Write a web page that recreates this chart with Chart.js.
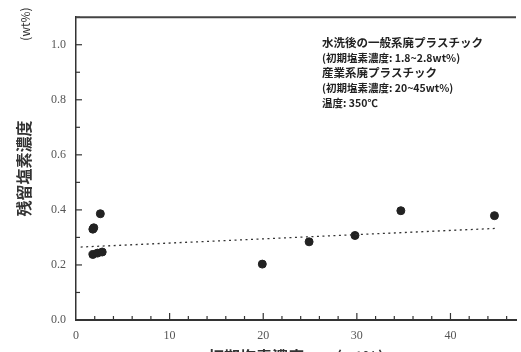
<!DOCTYPE html>
<html>
<head>
<meta charset="utf-8">
<script src="https://cdn.jsdelivr.net/npm/chart.js@4"></script>
<style>
    body { margin: 0; background: #fff; overflow: hidden; }
    #wrap { width: 521px; height: 352px; position: relative; }
</style>
</head>
<body>
<div id="wrap"><canvas id="grafico"></canvas></div>
<script>
// datos
const xPuntos = [1.8, 1.9, 2.6, 1.8, 2.3, 2.8, 19.9, 24.9, 29.8, 34.7, 44.7];
const yPuntos = [0.33, 0.335, 0.386, 0.238, 0.243, 0.247, 0.203, 0.284, 0.307, 0.397, 0.379];
const xTendencia = [0.5, 45];
const yTendencia = [0.265, 0.333];

const yTicks = [0, 0.2, 0.4, 0.6, 0.8, 1.0];
const xTicks = [0, 10, 20, 30, 40];

const tituloY = "残留塩素濃度";
const unidadY = "(wt%)";
const tituloX = "初期塩素濃度　　(wt%)";
const notas = [
    "水洗後の一般系廃プラスチック",
    "(初期塩素濃度: 1.8~2.8wt%)",
    "産業系廃プラスチック",
    "(初期塩素濃度: 20~45wt%)",
    "温度: 350℃"
];

const puntos = xPuntos.map((x, i) => ({x: x, y: yPuntos[i]}));
const tendencia = xTendencia.map((x, i) => ({x: x, y: yTendencia[i]}));

// marcas hacia adentro, borde superior, notas y unidad
const extras = {
    id: 'extras',
    afterDraw(chart) {
        const ctx = chart.ctx;
        const area = chart.chartArea;
        const sx = chart.scales.x;
        const sy = chart.scales.y;
        ctx.save();
        ctx.strokeStyle = '#333';
        ctx.lineWidth = 1.2;
        for (let i = 1; i <= 11; i++) {
            const py = sy.getPixelForValue(i / 10);
            const len = i % 2 === 0 ? 6 : 4;
            ctx.beginPath();
            ctx.moveTo(area.left, py);
            ctx.lineTo(area.left + len, py);
            ctx.stroke();
        }
        for (let v = 2; v <= 46; v += 2) {
            const px = sx.getPixelForValue(v);
            const len = v % 10 === 0 ? 7 : 4;
            ctx.beginPath();
            ctx.moveTo(px, area.bottom);
            ctx.lineTo(px, area.bottom - len);
            ctx.stroke();
        }
        ctx.lineWidth = 2;
        ctx.strokeStyle = '#444';
        ctx.beginPath();
        ctx.moveTo(area.left, area.top);
        ctx.lineTo(area.right, area.top);
        ctx.stroke();

        ctx.fillStyle = '#222';
        ctx.textBaseline = 'middle';
        ctx.textAlign = 'left';
        const ys = [43, 58, 73, 88, 103];
        notas.forEach((t, i) => {
            const grande = i === 0 || i === 2;
            ctx.font = (grande ? 'bold 11.5px' : 'bold 10.5px') + ' "Noto Sans CJK JP"';
            ctx.fillText(t, 322, ys[i]);
        });

        ctx.translate(25, 24);
        ctx.rotate(-Math.PI / 2);
        ctx.textAlign = 'center';
        ctx.fillStyle = '#333';
        ctx.font = '12px "Noto Sans CJK JP"';
        ctx.fillText(unidadY, 0, 0);
        ctx.restore();
    }
};

new Chart(document.getElementById('grafico'), {
    type: 'scatter',
    data: {
        datasets: [{
                label: 'tendencia',
                data: tendencia,
                showLine: true,
                borderColor: '#333',
                borderWidth: 1.3,
                borderDash: [2, 3.5],
                pointRadius: 0,
                fill: false
            }, {
                label: 'puntos',
                data: puntos,
                backgroundColor: '#222',
                borderColor: '#222',
                pointRadius: 4
            }]
    },
    options: {
        responsive: true,
        maintainAspectRatio: false,
        animation: false,
        layout: {padding: {top: 13, right: 0, left: 0, bottom: 0}},
        plugins: {
            legend: {display: false},
            tooltip: {enabled: false}
        },
        scales: {
            x: {
                type: 'linear',
                min: 0,
                max: 47,
                afterFit: (s) => { s.height = 32; },
                grid: {display: false, drawTicks: false},
                border: {display: true, color: '#333', width: 2},
                ticks: {
                    stepSize: 10,
                    includeBounds: false,
                    padding: 9,
                    color: '#555',
                    font: {family: '"Liberation Serif"', size: 12},
                    callback: (v) => xTicks.includes(v) ? String(v) : ''
                },
                title: {
                    display: true,
                    text: tituloX,
                    color: '#333',
                    padding: {top: 0, bottom: -15},
                    font: {family: '"Noto Sans CJK JP"', size: 16, weight: 'bold'}
                }
            },
            y: {
                min: 0,
                max: 1.1,
                afterFit: (s) => { s.width = 76; },
                grid: {display: false, drawTicks: false},
                border: {display: true, color: '#333', width: 1.5},
                ticks: {
                    stepSize: 0.2,
                    includeBounds: false,
                    padding: 10,
                    color: '#555',
                    font: {family: '"Liberation Serif"', size: 12},
                    callback: (v) => yTicks.some(t => Math.abs(t - v) < 1e-6) ? v.toFixed(1) : ''
                },
                title: {
                    display: true,
                    text: tituloY,
                    color: '#333',
                    padding: {top: 14, bottom: 0},
                    font: {family: '"Noto Sans CJK JP"', size: 16, weight: 'bold'}
                }
            }
        }
    },
    plugins: [extras]
});
</script>
</body>
</html>
